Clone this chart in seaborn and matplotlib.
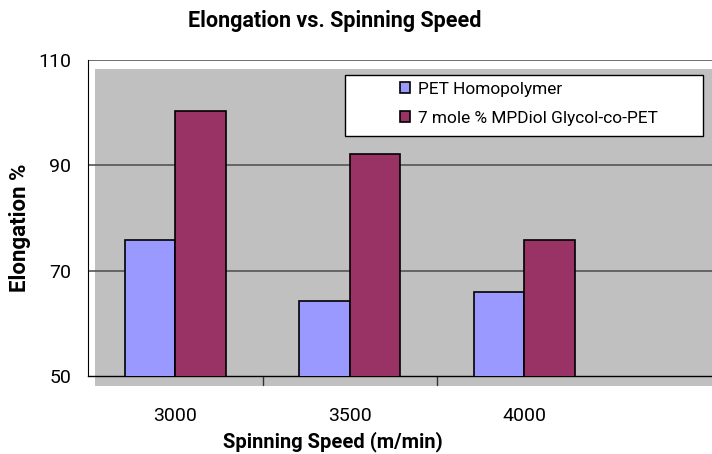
import matplotlib
matplotlib.use('Agg')
import matplotlib.pyplot as plt
import matplotlib.patches as mpatches
import pandas as pd
import seaborn as sns

speeds = ['3000', '3500', '4000']
series_names = ['PET Homopolymer', '7 mole % MPDiol Glycol-co-PET']
pet_homo = [75.8, 64.3, 65.9]
mpdiol_pet = [100.3, 92.2, 75.9]
bar_colors = ['#9999FF', '#993366']

df = pd.DataFrame({
    'speed': speeds * 2,
    'series': [series_names[0]] * 3 + [series_names[1]] * 3,
    'elong': pet_homo + mpdiol_pet,
})

sns.set_style('white')
plt.rcParams['font.family'] = ['Roboto', 'DejaVu Sans']
plt.rcParams['text.color'] = 'black'
plt.rcParams['axes.labelcolor'] = 'black'
plt.rcParams['xtick.color'] = 'black'
plt.rcParams['ytick.color'] = 'black'

fig = plt.figure(figsize=(7.12, 4.54), dpi=100)
ax = fig.add_axes([88 / 712, 1 - 376 / 454, 624 / 712, 316 / 454])
ax.set_facecolor('white')

# offset grey plot area, like the old Excel chart
bg = mpatches.Rectangle((7 / 624, -10 / 316), 1, 317 / 316, transform=ax.transAxes,
                        facecolor='#c0c0c0', edgecolor='none', zorder=0, clip_on=False)
ax.add_patch(bg)

sns.barplot(data=df, x='speed', y='elong', hue='series', palette=bar_colors,
            width=0.58, edgecolor='black', linewidth=1.2, saturation=1,
            ax=ax, zorder=3)

ax.set_ylim(50, 110)
ax.set_xlim(-0.5, 2.5 + 100 / 174)
ax.set_yticks([50, 70, 90, 110])
for yv in [70, 90, 110]:
    ax.axhline(yv, color='#555555', lw=1.2, zorder=1)

ax.tick_params(axis='y', direction='out', length=8, width=1, color='black',
               labelsize=14, pad=4)
ax.set_xticks([0, 1, 2])
ax.set_xticklabels(speeds, fontsize=14)
ax.tick_params(axis='x', length=0, pad=22)
for xb in [0.5, 1.5]:
    ax.plot([xb, xb], [0, -0.028], transform=ax.get_xaxis_transform(),
            color='#333333', lw=1, clip_on=False)

for side in ['top', 'right']:
    ax.spines[side].set_visible(False)
ax.spines['left'].set_color('black')
ax.spines['left'].set_bounds(50, 110)
ax.spines['bottom'].set_color('black')
ax.spines['bottom'].set_linewidth(1)

ax.set_ylabel('Elongation %', fontsize=16, fontweight='bold')
ax.yaxis.set_label_coords(-0.092, (376 - 228) / 316)
ax.set_xlabel('Spinning Speed (m/min)', fontsize=14.5, fontweight='bold')
ax.xaxis.set_label_coords((333 - 88) / 624, -0.176)

fig.text(335 / 712, 1 - 21 / 454, 'Elongation vs. Spinning Speed',
         ha='center', va='center', fontsize=15.5, fontweight='bold')

# legend box drawn separately so the entries can sit indented as in the original
box = mpatches.Rectangle(((345 - 88) / 624, (376 - 136) / 316), 358 / 624, 61 / 316,
                         transform=ax.transAxes, facecolor='white', edgecolor='black',
                         lw=1, zorder=4)
ax.add_patch(box)
leg = ax.legend(loc='upper left', bbox_to_anchor=((400 - 88) / 624, (376 - 82) / 316),
                frameon=False, fontsize=12.4,
                handlelength=0.6, handleheight=0.6, handletextpad=0.45,
                borderpad=0, labelspacing=0.8, borderaxespad=0)
leg.set_zorder(5)

fig.savefig('out.png', dpi=100)
